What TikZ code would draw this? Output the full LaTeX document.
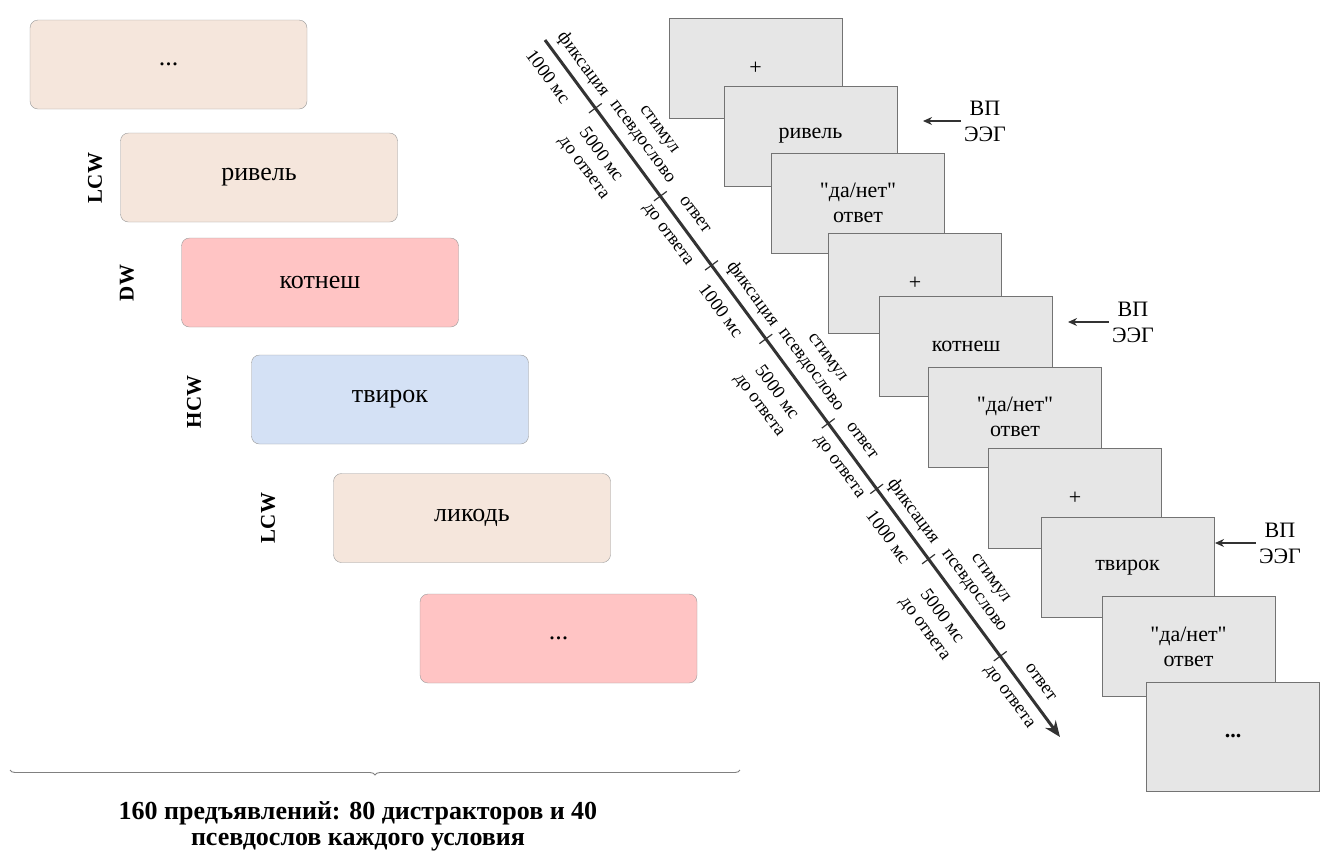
\documentclass[tikz,border=0pt]{standalone}
\usepackage{fontspec}
\setmainfont{Liberation Serif}
\usetikzlibrary{calc,arrows.meta,decorations.pathreplacing}

\definecolor{beige}{HTML}{F5E6DC}
\definecolor{pinkw}{HTML}{FFC4C4}
\definecolor{bluew}{HTML}{D4E1F5}
\definecolor{screengray}{HTML}{E6E6E6}

\tikzset{
    wordbox/.style={draw=black!40, rounded corners=8pt, minimum width=277pt, minimum height=89pt,
        font=\fontsize{26}{30}\selectfont},
    cond/.style={rotate=90, font=\bfseries\fontsize{21}{24}\selectfont},
    screen/.style={draw=black!55, fill=screengray, minimum width=173pt, minimum height=100pt,
        align=center, font=\fontsize{22}{25}\selectfont},
    eeg/.style={align=center, font=\fontsize{22}{26}\selectfont},
    eegarrow/.style={draw=black!80, line width=1.2pt, -{Stealth[length=9pt,width=8pt]}},
    timeline/.style={draw=black!80, line width=3pt, -{Stealth[length=16pt,width=13pt]}},
    tickmark/.style={draw=black!80, line width=1.2pt},
    tlab/.style={rotate=-53.55, align=center, font=\fontsize{18.5}{21}\selectfont},
    bracel/.style={decorate, decoration={brace, mirror, amplitude=5pt}, draw=black!50, line width=0.9pt},
    summary/.style={align=center, font=\bfseries\fontsize{26}{26}\selectfont}
}
\newcommand{\yesno}{\textquotedbl да/нет\textquotedbl\\ответ}

\begin{document}
\begin{tikzpicture}[x=1pt, y=-1pt]
    \useasboundingbox (0,0) rectangle (1325,855);
    % trial list
    \node[wordbox, fill=beige] (w0) at (168.5,64.5) {...};
    \node[wordbox, fill=beige] (w1) at (259,177.5) {ривель};
    \node[wordbox, fill=pinkw] (w2) at (320,282.5) {котнеш};
    \node[wordbox, fill=bluew] (w3) at (390,399.5) {твирок};
    \node[wordbox, fill=beige] (w4) at (472,518) {ликодь};
    \node[wordbox, fill=pinkw] (w5) at (558.5,638.5) {...};
    \node[cond] (c1) at (95,178) {LCW};
    \node[cond] (c2) at (127,283) {DW};
    \node[cond] (c3) at (194,402) {HCW};
    \node[cond] (c4) at (268,518) {LCW};
    \coordinate (bl) at (10,770);
    \coordinate (br) at (740,770);
    \draw[bracel] (bl) -- (br);
    \node[summary] (sum) at (358,826) {160 предъявлений: 80 дистракторов и 40\\псевдослов каждого условия};
    % timeline
    \coordinate (t0) at (545,40);
    \coordinate (t9) at (1060,737);
    \draw[timeline] (t0) -- (t9);
    \foreach \f in {0.0978,0.224,0.3233,0.4288,0.55,0.644,0.7447,0.884}
        \draw[tickmark] ($(t0)!\f!(t9)!8pt!90:(t9)$) -- ($(t0)!\f!(t9)!8pt!270:(t9)$);
    \node[tlab] (fix1) at ($(t0)!0.049!(t9)!16pt!90:(t9)$) {фиксация};
    \node[tlab] (dur1) at ($(t0)!0.036!(t9)!19pt!270:(t9)$) {1000 мс};
    \node[tlab] (stim1) at ($(t0)!0.161!(t9)!27pt!90:(t9)$) {стимул\\псевдослово};
    \node[tlab] (wait1) at ($(t0)!0.145!(t9)!34pt!270:(t9)$) {5000 мс\\до ответа};
    \node[tlab] (resp1) at ($(t0)!0.265!(t9)!17pt!90:(t9)$) {ответ};
    \node[tlab] (until1) at ($(t0)!0.265!(t9)!18pt!270:(t9)$) {до ответа};
    \node[tlab] (fix2) at ($(t0)!0.378!(t9)!16pt!90:(t9)$) {фиксация};
    \node[tlab] (dur2) at ($(t0)!0.372!(t9)!19pt!270:(t9)$) {1000 мс};
    \node[tlab] (stim2) at ($(t0)!0.488!(t9)!27pt!90:(t9)$) {стимул\\псевдослово};
    \node[tlab] (wait2) at ($(t0)!0.486!(t9)!34pt!270:(t9)$) {5000 мс\\до ответа};
    \node[tlab] (resp2) at ($(t0)!0.589!(t9)!17pt!90:(t9)$) {ответ};
    \node[tlab] (until2) at ($(t0)!0.598!(t9)!18pt!270:(t9)$) {до ответа};
    \node[tlab] (fix3) at ($(t0)!0.690!(t9)!16pt!90:(t9)$) {фиксация};
    \node[tlab] (dur3) at ($(t0)!0.6965!(t9)!19pt!270:(t9)$) {1000 мс};
    \node[tlab] (stim3) at ($(t0)!0.805!(t9)!27pt!90:(t9)$) {стимул\\псевдослово};
    \node[tlab] (wait3) at ($(t0)!0.807!(t9)!34pt!270:(t9)$) {5000 мс\\до ответа};
    \node[tlab] (resp3) at ($(t0)!0.936!(t9)!17pt!90:(t9)$) {ответ};
    \node[tlab] (until3) at ($(t0)!0.928!(t9)!18pt!270:(t9)$) {до ответа};
    % screens
    \node[screen] (s1) at (755.5,68) {+};
    \node[screen] (s2) at (810.5,136) {ривель};
    \node[screen] (s3) at (858,203) {\yesno};
    \node[screen] (s4) at (915,283.5) {+};
    \node[screen] (s5) at (966,346.5) {котнеш};
    \node[screen] (s6) at (1015,417) {\yesno};
    \node[screen] (s7) at (1075,498.5) {+};
    \node[screen] (s8) at (1127.5,567.5) {твирок};
    \node[screen] (s9) at (1188.5,646.5) {\yesno};
    \node[screen, minimum height=109pt] (s10) at (1233,736.5) {\textbf{...}};
    % ERP markers
    \node[eeg] (e1) at (985,121) {ВП\\ЭЭГ};
    \node[eeg] (e2) at (1133,322) {ВП\\ЭЭГ};
    \node[eeg] (e3) at (1280,543) {ВП\\ЭЭГ};
    \coordinate (a1) at (923,121);
    \coordinate (a2) at (1068,322);
    \coordinate (a3) at (1215,543);
    \draw[eegarrow] (e1) -- (a1);
    \draw[eegarrow] (e2) -- (a2);
    \draw[eegarrow] (e3) -- (a3);
\end{tikzpicture}
\end{document}
